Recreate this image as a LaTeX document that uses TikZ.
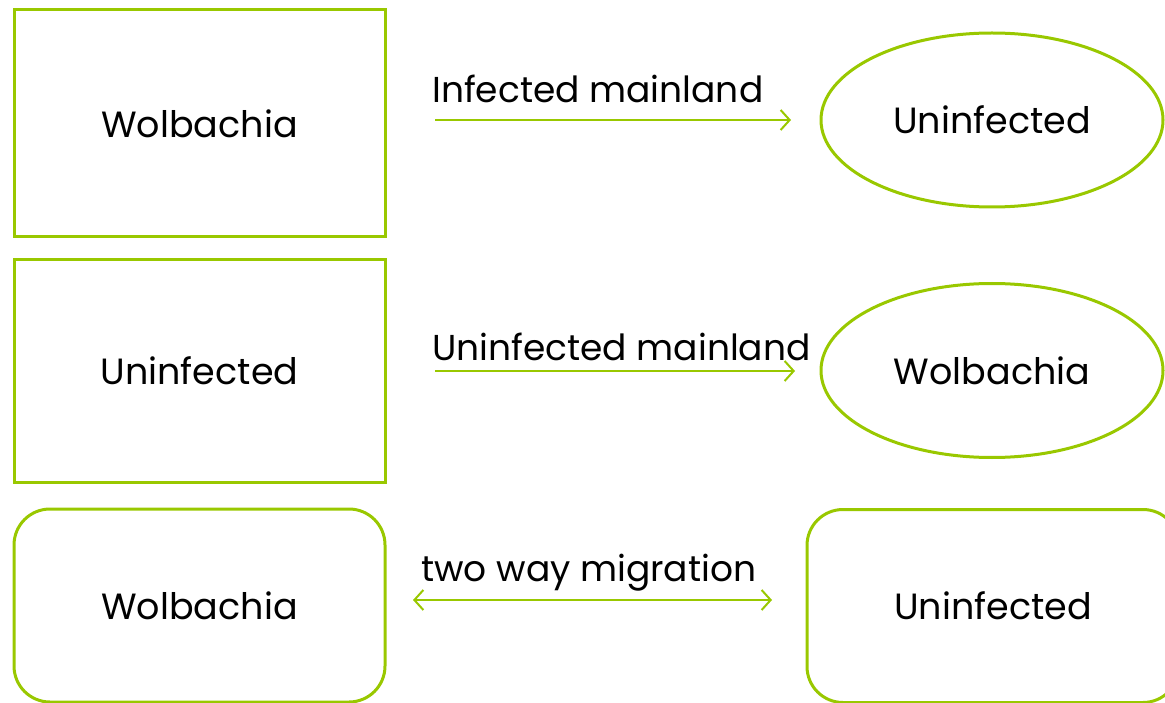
\documentclass[tikz,border=0pt]{standalone}
\usepackage{fontspec}
\setmainfont{Poppins}
\usetikzlibrary{arrows.meta,shapes.geometric}
\definecolor{lime}{HTML}{99C800}
\begin{document}
\begin{tikzpicture}[x=1pt,y=-1pt,
	island/.style={draw=lime,line width=3pt,minimum width=371pt,font=\fontsize{36.5}{42}\selectfont},
	squarebox/.style={island,rectangle},
	roundbox/.style={island,rectangle,rounded corners=36pt,minimum height=193pt},
	oval/.style={island,ellipse,minimum width=342pt,minimum height=174pt,inner sep=0pt},
	flow/.style={draw=lime,line width=2pt,-{Straight Barb[length=9pt,width=20pt]}},
	twoway/.style={flow,{Straight Barb[length=9pt,width=20pt]}-{Straight Barb[length=9pt,width=20pt]}},
	tag/.style={font=\fontsize{36}{42}\selectfont,inner sep=0pt}
	]
	\useasboundingbox (0,0) rectangle (1165,703);
	% mainland to island, infected
	\node[squarebox,minimum height=227pt] (wol1) at (199.5,123.5) {Wolbachia};
	\node[oval] (uninf1) at (992,120) {Uninfected};
	\coordinate (s1) at (435,120);
	\coordinate (e1) at (791,120);
	\draw[flow] (s1) -- (e1);
	\node[tag,anchor=base west] (lab1) at (432,103) {Infected mainland};
	% mainland to island, uninfected
	\node[squarebox,minimum height=222pt] (uninf2) at (199.5,371) {Uninfected};
	\node[oval] (wol2) at (992,370.5) {Wolbachia};
	\coordinate (s2) at (435,371);
	\coordinate (e2) at (795,371);
	\draw[flow] (s2) -- (e2);
	\node[tag,anchor=base west] (lab2) at (432,361) {Uninfected mainland};
	% migration both ways
	\node[roundbox] (wol3) at (199.5,605.5) {Wolbachia};
	\node[roundbox,minimum width=372pt] (uninf3) at (993,606) {Uninfected};
	\coordinate (s3) at (413,600);
	\coordinate (e3) at (772,600);
	\draw[twoway] (s3) -- (e3);
	\node[tag,anchor=base west] (lab3) at (421,581) {two way migration};
\end{tikzpicture}
\end{document}
